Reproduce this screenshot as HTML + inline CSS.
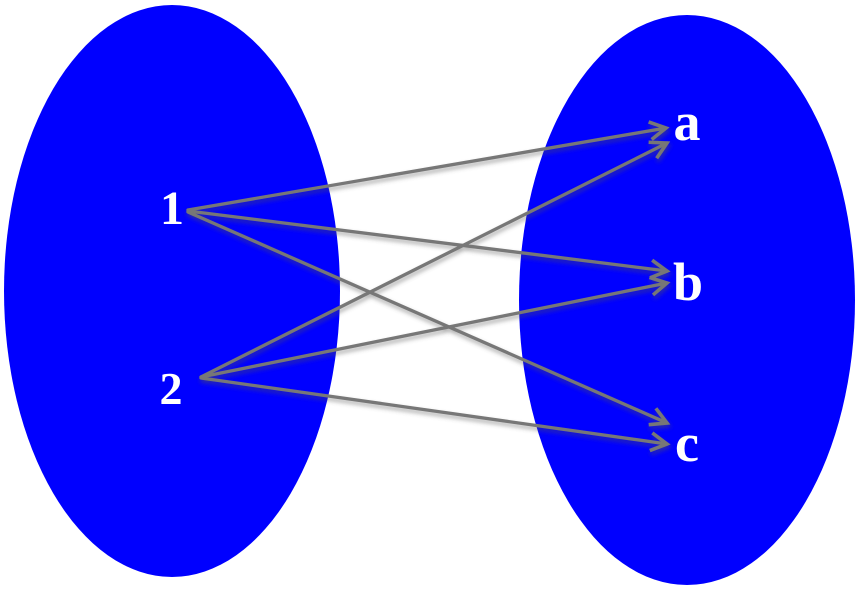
<!DOCTYPE html>
<html><head><meta charset="utf-8"><style>
html,body{margin:0;padding:0;background:#fff;width:859px;height:590px;overflow:hidden}
text{font-family:"Liberation Serif","DejaVu Serif",serif;fill:#fff;font-weight:bold}
</style></head><body>
<svg width="859" height="590" viewBox="0 0 859 590" xmlns="http://www.w3.org/2000/svg">
<defs>
<filter id="sh" x="-20%" y="-20%" width="140%" height="140%">
<feGaussianBlur in="SourceAlpha" stdDeviation="2"/>
<feOffset dx="1" dy="3" result="b"/>
<feFlood flood-color="#555" flood-opacity="0.5"/>
<feComposite in2="b" operator="in"/>
<feMerge><feMergeNode/><feMergeNode in="SourceGraphic"/></feMerge>
</filter>
<marker id="ah" viewBox="0 0 12 12" refX="10" refY="6" markerWidth="6.5" markerHeight="6.5" orient="auto" markerUnits="strokeWidth">
<path d="M1,1 L10,6 L1,11" fill="none" stroke="#777" stroke-width="2"/>
</marker>
</defs>
<ellipse cx="172" cy="291" rx="168" ry="286" fill="#0000ff"/>
<ellipse cx="687" cy="300" rx="168" ry="285" fill="#0000ff"/>
<g stroke="#777" stroke-width="3.3" fill="none" marker-end="url(#ah)" filter="url(#sh)" stroke-linecap="round">
<line x1="188" y1="210" x2="666" y2="128"/>
<line x1="188" y1="211" x2="667" y2="271"/>
<line x1="188" y1="212" x2="667" y2="423"/>
<line x1="201" y1="377" x2="667" y2="143"/>
<line x1="201" y1="377" x2="667" y2="283"/>
<line x1="201" y1="378" x2="667" y2="444"/>
</g>
<text x="172" y="224" font-size="48" text-anchor="middle">1</text>
<text x="171" y="404" font-size="46" text-anchor="middle">2</text>
<text x="687" y="140" font-size="54" text-anchor="middle">a</text>
<text x="688" y="300" font-size="54" text-anchor="middle">b</text>
<text x="687" y="461" font-size="54" text-anchor="middle">c</text>
</svg>
</body></html>
